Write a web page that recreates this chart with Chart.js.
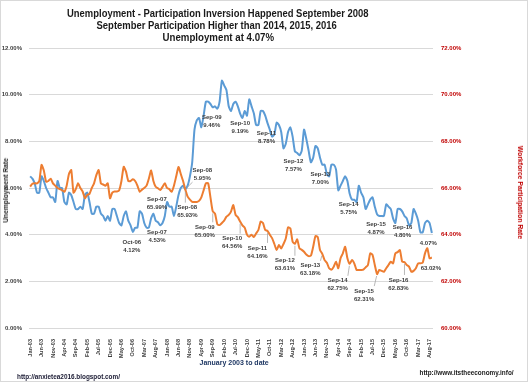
<!DOCTYPE html>
<html><head><meta charset="utf-8">
<script src="https://cdn.jsdelivr.net/npm/chart.js@4/dist/chart.umd.min.js"></script>
<style>
html,body{margin:0;padding:0;background:#fff;}
#wrap{position:relative;width:528px;height:384px;overflow:hidden;font-family:"Liberation Sans",Arial,sans-serif;}
#frame{position:absolute;left:0;top:0;width:526px;height:380px;border:1px solid #d9d9d9;}
canvas{position:absolute;left:0;top:0;}
.t{position:absolute;white-space:nowrap;font-weight:bold;line-height:1;transform-origin:center center;}
.title{font-size:11px;color:#1a1a1a;}
</style></head><body>
<div id="wrap">
<div id="frame"></div>
<canvas id="c" width="528" height="384"></canvas>
<div class="t title" data-cx="217.5" data-cy="13" data-w="301">Unemployment - Participation Inversion Happened September 2008</div>
<div class="t title" data-cx="216.7" data-cy="25" data-w="240">September Participation Higher than 2014, 2015, 2016</div>
<div class="t title" data-cx="218" data-cy="37.5" data-w="112">Unemployment at 4.07%</div>
<div class="t" style="font-size:6.7px;color:#262626" data-cx="6" data-cy="190" data-rot="-90">Unemployment Rate</div>
<div class="t" style="font-size:6.8px;color:#c00000" data-cx="519" data-cy="192.5" data-rot="90">Workforce Participation Rate</div>
<div class="t" style="font-size:7px;color:#1f3864" data-cx="234" data-cy="362.7">January 2003 to date</div>
<div class="t" style="font-size:6.4px;color:#1a1a33" data-cx="68.5" data-cy="377">http://anxietea2016.blogspot.com/</div>
<div class="t" style="font-size:6.4px;color:#1a1a1a" data-cx="466.5" data-cy="373.3">http://www.itstheeconomy.info/</div>
</div>
<script>
// ---- data ----
const monthNames = ['Jan','Feb','Mar','Apr','May','Jun','Jul','Aug','Sep','Oct','Nov','Dec'];
const firstYear = 2003, lastYear = 2017, lastMonth = 9; // through Sep-17
const tickStep = 5;

const unemployment = [
6.5,6.4,6.2,5.8,5.8,6.5,6.3,6.0,5.8,5.6,5.6,5.4,
6.3,6.0,6.0,5.4,5.3,5.8,5.7,5.4,5.1,5.1,5.2,5.1,
5.7,5.8,5.4,4.9,4.9,5.2,5.2,4.9,4.8,4.6,4.8,4.6,
5.1,5.1,4.8,4.5,4.4,4.8,5.0,4.6,4.4,4.12,4.3,4.3,
5.0,4.9,4.5,4.3,4.3,4.7,4.9,4.6,4.53,4.4,4.5,4.8,
5.4,5.2,5.2,4.8,5.2,5.7,6.0,6.1,5.95,6.1,6.5,7.1,
8.5,8.9,9.0,8.6,9.1,9.7,9.7,9.6,9.46,9.5,9.4,9.7,
10.6,10.4,10.2,9.5,9.3,9.6,9.7,9.5,9.19,9.0,9.3,9.1,
9.8,9.5,9.2,8.7,8.7,9.3,9.3,9.1,8.78,8.5,8.2,8.3,
8.8,8.7,8.4,7.7,7.9,8.4,8.6,8.2,7.57,7.5,7.4,7.6,
8.5,8.1,7.6,7.1,7.3,7.8,7.7,7.3,7.00,7.0,6.6,6.5,
7.0,7.0,6.8,5.9,6.1,6.3,6.5,6.3,5.75,5.5,5.5,5.4,
6.1,5.8,5.6,5.1,5.3,5.5,5.6,5.2,4.87,4.8,4.8,4.8,
5.3,5.2,5.1,4.7,4.5,5.1,5.1,5.0,4.80,4.7,4.4,4.5,
5.1,4.9,4.6,4.1,4.1,4.5,4.6,4.5,4.07];

const participation = [
66.06,66.18,66.20,66.20,66.30,66.99,66.75,66.27,66.30,66.40,66.20,66.10,
66.00,65.95,65.90,65.84,66.10,66.60,66.77,65.80,65.95,66.20,66.00,65.85,
65.56,65.70,65.75,66.00,66.20,66.55,66.77,66.20,66.15,66.10,66.20,65.56,
65.80,65.85,65.85,65.90,66.30,66.91,66.70,66.30,66.30,66.38,66.30,66.10,
65.84,65.93,66.00,66.10,66.40,66.75,66.30,66.05,65.99,65.91,66.05,66.20,
66.00,65.95,65.84,66.10,66.50,66.90,66.60,66.30,65.93,65.63,65.50,65.41,
65.40,65.40,65.45,65.60,65.90,66.20,66.20,65.60,65.00,64.90,64.45,64.41,
64.50,64.60,64.77,64.85,64.99,65.27,64.85,64.75,64.56,64.40,64.30,64.00,
63.91,64.00,63.90,64.05,64.20,64.56,64.50,64.20,64.16,64.00,63.85,63.60,
63.34,63.56,63.41,63.60,63.84,64.31,64.27,63.70,63.61,63.80,63.41,63.35,
63.27,63.15,63.08,63.10,63.48,63.94,63.90,63.34,63.18,62.91,62.80,62.56,
62.50,62.63,62.84,62.56,62.99,63.20,63.48,62.99,62.75,62.91,62.77,62.49,
62.49,62.49,62.50,62.60,62.70,63.20,63.13,62.70,62.31,62.49,62.45,62.41,
62.56,62.70,62.84,62.77,63.20,63.25,63.34,62.84,62.83,62.70,62.63,62.41,
62.45,62.56,62.77,62.77,62.80,63.20,63.42,62.99,63.02];

const leftTicks = [0,2,4,6,8,10,12];
const rightTicks = [60,62,64,66,68,70,72];

// annotated points: series, category, label offset (dx,dy) from the point, leader line
const unempNotes = [
 ['Oct-06',-1,14,false],['Sep-07',-1,14,false],['Sep-08',17,-15,true],['Sep-09',-1,14,false],
 ['Sep-10',0,14,false],['Sep-11',-1,14,false],['Sep-12',-1.5,14,false],['Sep-13',-2,14,false],
 ['Sep-14',-1,14.5,false],['Sep-15',-1,14,false],['Sep-16',-2,15,false],['Sep-17',-3.5,10,false,true]];
const partNotes = [
 ['Sep-07',-1,15,false],['Sep-08',2,22,true],['Sep-09',-8,20,true],['Sep-10',-8,21,true],
 ['Sep-11',-10,21,true],['Sep-12',-10,21,true],['Sep-13',-12,16,true],['Sep-14',-12,21,true],
 ['Sep-15',-13,21,true],['Sep-16',-6,22,true],['Sep-17',-1,11,false,true]];

const categories = [];
for (let y = firstYear; y <= lastYear; y++) {
  for (let m = 0; m < 12; m++) {
    if (y === lastYear && m >= lastMonth) break;
    categories.push(monthNames[m] + '-' + String(y).slice(2));
  }
}

// ---- overlay text placement ----
document.querySelectorAll('.t').forEach(el => {
  const w = el.offsetWidth, h = el.offsetHeight;
  const cx = +el.dataset.cx, cy = +el.dataset.cy;
  el.style.left = (cx - w/2) + 'px';
  el.style.top = (cy - h/2) + 'px';
  let tr = '';
  if (el.dataset.rot) tr += 'rotate(' + el.dataset.rot + 'deg) ';
  if (el.dataset.w) tr += 'scaleX(' + (+el.dataset.w / w) + ')';
  el.style.transform = tr;
});

const FONT = '"Liberation Sans", Arial, sans-serif';

const notePlugin = {
  id: 'notes',
  afterDatasetsDraw(chart) {
    const ctx = chart.ctx;
    ctx.save();
    ctx.font = 'bold 6px ' + FONT;
    ctx.fillStyle = '#404040';
    ctx.textAlign = 'center';
    ctx.textBaseline = 'middle';
    const sets = [[0, partNotes, participation], [1, unempNotes, unemployment]];
    for (const [di, notes, vals] of sets) {
      const meta = chart.getDatasetMeta(di);
      for (const n of notes) {
        const idx = categories.indexOf(n[0]);
        if (idx < 0) continue;
        const pt = meta.data[idx];
        const lx = pt.x + n[1], ly = pt.y + n[2];
        const valTxt = vals[idx].toFixed(2) + '%';
        const lines = n[4] ? [valTxt] : [n[0], valTxt];
        const lh = 8;
        let w = 0;
        lines.forEach(t => { w = Math.max(w, ctx.measureText(t).width); });
        const h = lines.length * lh;
        if (n[3]) {
          const bx = Math.min(Math.max(pt.x, lx - w/2), lx + w/2);
          const by = Math.min(Math.max(pt.y, ly - h/2 - 1), ly + h/2);
          const dx = pt.x - bx, dy = pt.y - by, d = Math.hypot(dx, dy);
          if (d > 3) {
            ctx.strokeStyle = '#a6a6a6';
            ctx.lineWidth = 0.8;
            ctx.beginPath();
            ctx.moveTo(bx, by);
            ctx.lineTo(pt.x - dx/d*2, pt.y - dy/d*2);
            ctx.stroke();
          }
        }
        lines.forEach((t, k) => {
          ctx.fillText(t, lx, ly - h/2 + lh/2 + k*lh);
        });
      }
    }
    ctx.restore();
  }
};

new Chart(document.getElementById('c'), {
  type: 'line',
  data: {
    labels: categories,
    datasets: [
      { label: 'Workforce Participation Rate', data: participation, yAxisID: 'y2',
        borderColor: '#ed7d31', borderWidth: 2, pointRadius: 0, tension: 0.2, order: 0, fill: false },
      { label: 'Unemployment Rate', data: unemployment, yAxisID: 'y',
        borderColor: '#5b9bd5', borderWidth: 2, pointRadius: 0, tension: 0.2, order: 1, fill: false }
    ]
  },
  options: {
    responsive: false, animation: false, devicePixelRatio: 1,
    layout: { padding: { top: 48, left: 0, right: 0, bottom: 0 } },
    plugins: { legend: { display: false }, tooltip: { enabled: false }, title: { display: false } },
    scales: {
      x: {
        offset: true,
        grid: { display: false }, border: { display: false },
        ticks: { autoSkip: false, minRotation: 90, maxRotation: 90, padding: 3, color: '#404040',
          font: { size: 5.6, weight: 'bold', family: FONT },
          callback: (v, i) => (i % tickStep === 0 ? categories[i] : '') },
        afterFit: s => { s.height = 56; }
      },
      y: {
        position: 'left', min: leftTicks[0], max: leftTicks[leftTicks.length-1],
        afterBuildTicks: s => { s.ticks = leftTicks.map(v => ({ value: v })); },
        ticks: { padding: 7, color: '#404040', font: { size: 6, weight: 'bold', family: FONT },
          callback: v => v.toFixed(2) + '%' },
        grid: { color: '#d9d9d9', drawTicks: false, lineWidth: 1 }, border: { display: false },
        afterFit: s => { s.width = 29; }
      },
      y2: {
        position: 'right', min: rightTicks[0], max: rightTicks[rightTicks.length-1],
        afterBuildTicks: s => { s.ticks = rightTicks.map(v => ({ value: v })); },
        ticks: { padding: 8, color: '#c00000', font: { size: 6, weight: 'bold', family: FONT },
          callback: v => v.toFixed(2) + '%' },
        grid: { display: false, drawTicks: false }, border: { display: false },
        afterFit: s => { s.width = 95; }
      }
    }
  },
  plugins: [notePlugin]
});
</script>
</body></html>
